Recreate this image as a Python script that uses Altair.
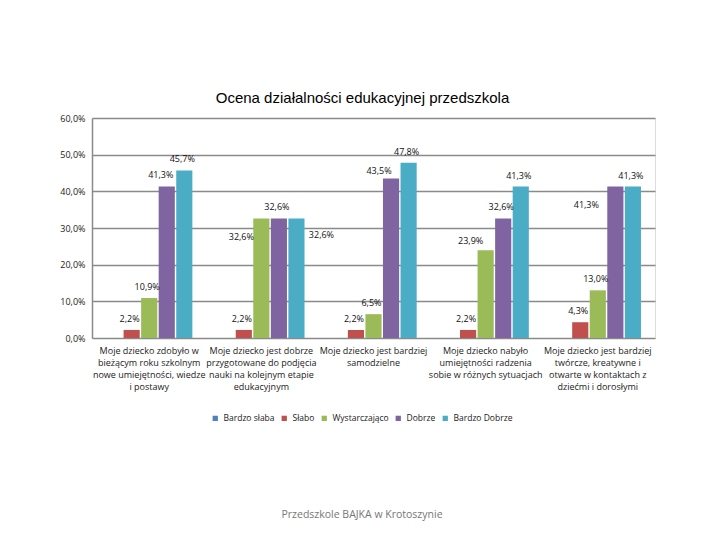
import altair as alt
import pandas as pd

title = "Ocena działalności edukacyjnej przedszkola"
footer = "Przedszkole BAJKA w Krotoszynie"

categories = [
    ["Moje dziecko zdobyło w", "bieżącym roku szkolnym", "nowe umiejętności, wiedze", "i postawy"],
    ["Moje dziecko jest dobrze", "przygotowane do podjęcia", "nauki na kolejnym etapie", "edukacyjnym"],
    ["Moje dziecko jest bardziej", "samodzielne"],
    ["Moje dziecko nabyło", "umiejętności radzenia", "sobie w różnych sytuacjach"],
    ["Moje dziecko jest bardziej", "twórcze, kreatywne i", "otwarte w kontaktach z", "dziećmi i dorosłymi"],
]
series = ["Bardzo słaba", "Słabo", "Wystarczająco", "Dobrze", "Bardzo Dobrze"]
bardzo_slaba = [0.0, 0.0, 0.0, 0.0, 0.0]
slabo = [2.2, 2.2, 2.2, 2.2, 4.3]
wystarczajaco = [10.9, 32.6, 6.5, 23.9, 13.0]
dobrze = [41.3, 32.6, 43.5, 32.6, 41.3]
bardzo_dobrze = [45.7, 32.6, 47.8, 41.3, 41.3]
colors = ["#4F81BD", "#C0504D", "#9BBB59", "#8064A2", "#4BACC6"]
y_ticks = [0, 10, 20, 30, 40, 50, 60]

# label nudges (category index, series, dx, dy) for labels Excel moved aside
label_nudges = [
    (0, "Dobrze", -6, -12),
    (1, "Wystarczająco", -20, 19),
    (1, "Bardzo Dobrze", 25, 17),
    (2, "Dobrze", -12, -8),
    (3, "Wystarczająco", -15, -9),
    (4, "Dobrze", -29, 18),
]

cat_keys = ["|".join(c) for c in categories]
values = [bardzo_slaba, slabo, wystarczajaco, dobrze, bardzo_dobrze]
rows = []
for ci, ck in enumerate(cat_keys):
    for si, s in enumerate(series):
        v = values[si][ci]
        rows.append({"cat": ck, "ci": ci, "series": s, "value": v,
                     "label": (f"{v:.1f}".replace(".", ",") + "%") if v > 0 else ""})
df = pd.DataFrame(rows)

FONT = "Open Sans"

x_enc = alt.X("cat:N", sort=cat_keys,
              scale=alt.Scale(paddingInner=0.23, paddingOuter=0.125),
              axis=alt.Axis(title=None, labelAngle=0, domain=False, ticks=False,
                            labelExpr="split(datum.label, '|')", labelFont=FONT,
                            labelFontSize=9, labelColor="#222", labelLineHeight=12,
                            labelPadding=8, labelLimit=300, grid=False))
xo_enc = alt.XOffset("series:N", sort=series, scale=alt.Scale(paddingInner=0.08))
y_enc = alt.Y("value:Q", scale=alt.Scale(domain=[0, 60], nice=False),
              axis=alt.Axis(title=None, values=y_ticks, domain=True, domainColor="#8a8a8a",
                            domainWidth=1.5, ticks=False, labelFont=FONT, labelFontSize=9,
                            labelColor="#222", labelPadding=7,
                            labelExpr="replace(format(datum.value, '.1f'), '.', ',') + '%'",
                            gridColor="#8a8a8a", gridWidth=1.5))

base = alt.Chart(df)

bars = base.mark_bar().encode(
    x=x_enc, xOffset=xo_enc, y=y_enc,
    color=alt.Color("series:N", sort=series,
                    scale=alt.Scale(domain=series, range=colors),
                    legend=alt.Legend(title=None, orient="none", direction="horizontal",
                                      legendX=119, legendY=296, symbolType="square",
                                      symbolSize=28, labelFont=FONT, labelFontSize=8.5,
                                      labelColor="#222", columnPadding=5, labelOffset=4,
                                      symbolStrokeWidth=0)),
)

nudge_expr = " || ".join(
    f"(datum.ci == {ci} && datum.series == '{s}')" for ci, s, _, _ in label_nudges)

txt_kw = dict(font=FONT, fontSize=9, color="#111", baseline="middle")
labels = base.transform_filter(f"datum.value > 0 && !({nudge_expr})").mark_text(
    dx=-2, dy=-11, **txt_kw).encode(x=x_enc, xOffset=xo_enc, y=y_enc, text="label:N")

layers = [bars, labels]
for ci, s, dx, dy in label_nudges:
    layers.append(
        base.transform_filter(f"datum.ci == {ci} && datum.series == '{s}'")
        .mark_text(dx=dx, dy=dy, **txt_kw)
        .encode(x=x_enc, xOffset=xo_enc, y=y_enc, text="label:N"))

foot = alt.Chart(pd.DataFrame({"t": [footer]})).mark_text(
    font=FONT, fontSize=10.5, color="#777", baseline="middle").encode(
    text="t:N", x=alt.value(270), y=alt.value(397))
layers.append(foot)

chart = alt.layer(*layers).properties(
    width=563, height=220,
    autosize=alt.AutoSizeParams(type="none"),
    padding={"left": 84, "top": 110, "right": 57, "bottom": 200},
    title=alt.TitleParams(title, font="Liberation Sans", fontSize=15, fontWeight="normal",
                          color="#000", anchor="middle", offset=8, dx=-11),
).configure_view(stroke="#8a8a8a", strokeWidth=1.5).configure(background="white")

chart.save("out.html", embed_options={"renderer": "svg", "actions": False})
